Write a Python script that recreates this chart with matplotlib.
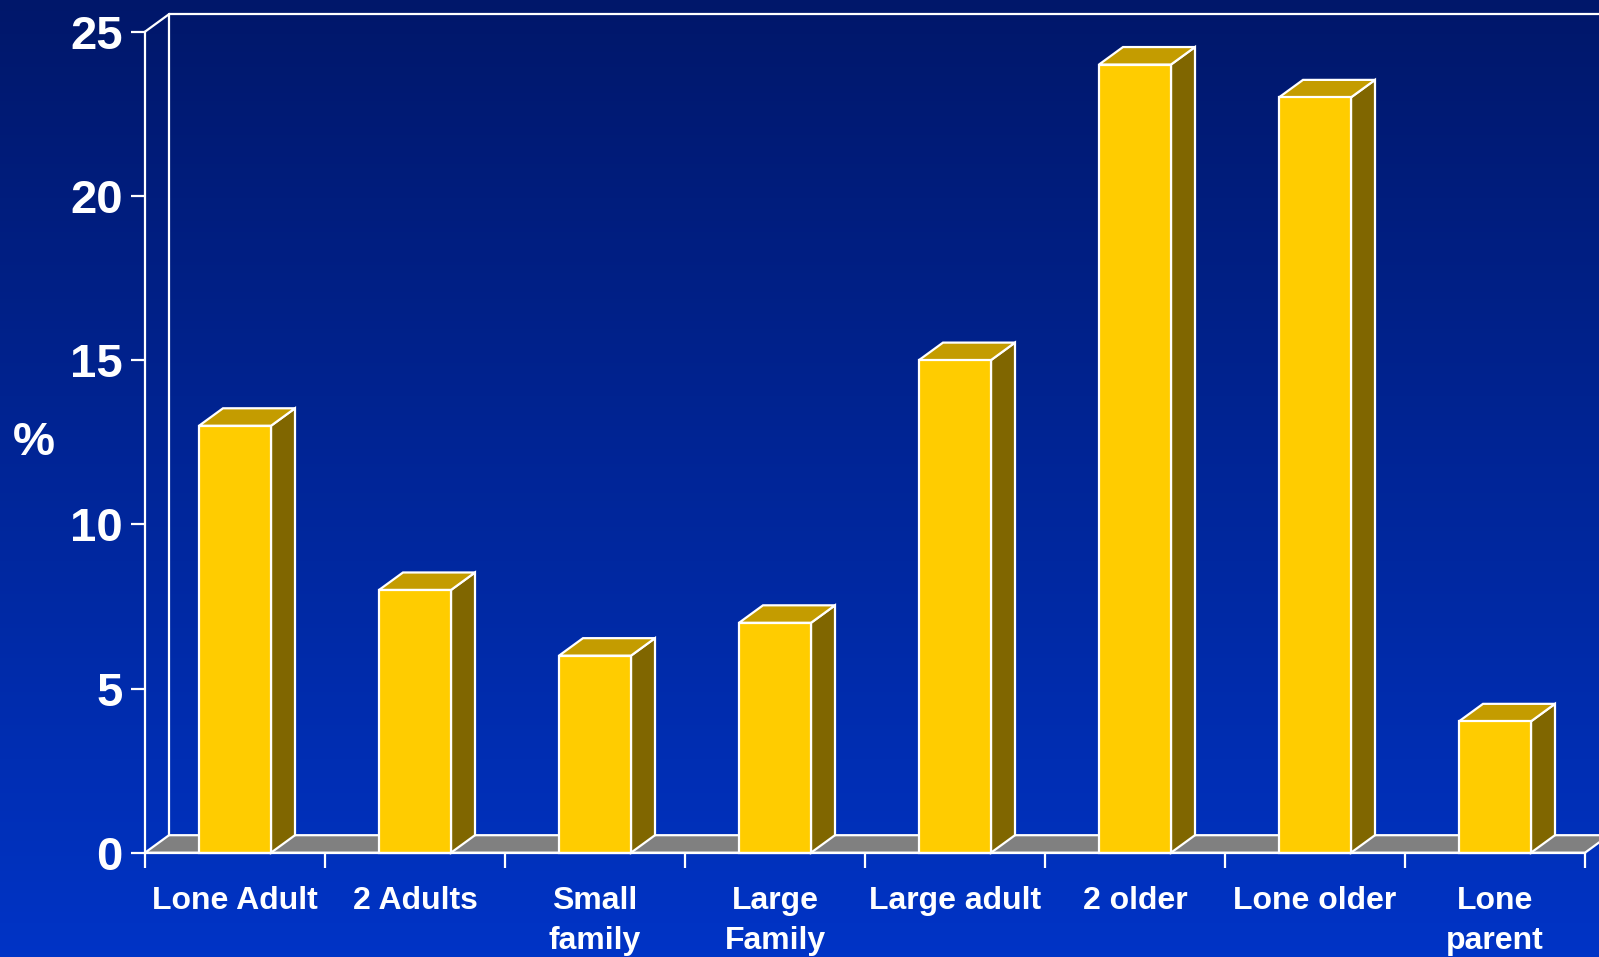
import matplotlib
matplotlib.use("Agg")
import matplotlib.pyplot as plt
import numpy as np
from matplotlib.patches import Polygon
from matplotlib.colors import LinearSegmentedColormap

categories = ["Lone Adult", "2 Adults", "Small\nfamily", "Large\nFamily",
              "Large adult", "2 older", "Lone older", "Lone\nparent"]
values = [13, 8, 6, 7, 15, 24, 23, 4]
y_ticks = [0, 5, 10, 15, 20, 25]

plt.rcParams["font.family"] = ["Liberation Sans", "DejaVu Sans"]
plt.rcParams["font.weight"] = "bold"

FRONT = "#ffcc00"
TOP = "#c49c00"
SIDE = "#806600"
FLOOR = "#808080"
EDGE = "white"
LW = 1.6

fig = plt.figure(figsize=(15.99, 9.57), dpi=100)

# background gradient
bg = fig.add_axes([0, 0, 1, 1], zorder=0)
grad = np.linspace(0, 1, 256).reshape(-1, 1)
cmap = LinearSegmentedColormap.from_list("bg", ["#00176a", "#0034c6"])
bg.imshow(grad, aspect="auto", cmap=cmap, extent=[0, 1, 0, 1], origin="upper")
bg.set_axis_off()

W, H = 1599, 957
ax = fig.add_axes([145 / W, (H - 852.7) / H, 1440 / W, 821 / H], zorder=1)
ax.patch.set_visible(False)
n = len(categories)
ymax = 25
ax.set_xlim(0, n)
ax.set_ylim(0, ymax)

# depth of the pseudo-3D view, in data units
dx = 24 / 180
dy = 17.5 / (821 / ymax)
bw = 0.4

# floor and back wall
ax.add_patch(Polygon([(0, 0), (n, 0), (n + dx, dy), (dx, dy)], closed=True,
                     facecolor=FLOOR, edgecolor=EDGE, lw=LW, clip_on=False, zorder=2))
ax.plot([dx, dx, n + 1], [dy, ymax + dy, ymax + dy], color=EDGE, lw=LW,
        clip_on=False, zorder=2)
ax.plot([0, dx], [ymax, ymax + dy], color=EDGE, lw=LW, clip_on=False, zorder=2)

for i, v in enumerate(values):
    x0 = i + 0.5 - bw / 2
    x1 = x0 + bw
    side = [(x1, 0), (x1 + dx, dy), (x1 + dx, v + dy), (x1, v)]
    top = [(x0, v), (x1, v), (x1 + dx, v + dy), (x0 + dx, v + dy)]
    front = [(x0, 0), (x1, 0), (x1, v), (x0, v)]
    for pts, fc in ((side, SIDE), (top, TOP), (front, FRONT)):
        ax.add_patch(Polygon(pts, closed=True, facecolor=fc, edgecolor=EDGE,
                             lw=LW, joinstyle="miter", clip_on=False, zorder=3))

for s in ("top", "right"):
    ax.spines[s].set_visible(False)
for s in ("left", "bottom"):
    ax.spines[s].set_color(EDGE)
    ax.spines[s].set_linewidth(LW)
    ax.spines[s].set_zorder(4)

ax.set_yticks(y_ticks)
ax.set_yticklabels([str(t) for t in y_ticks])
ax.tick_params(axis="y", colors=EDGE, length=10, width=LW, pad=6,
               labelsize=34, labelcolor="white")
ax.set_xticks(np.arange(n + 1))
ax.set_xticklabels([])
ax.set_xticks(np.arange(n) + 0.5, minor=True)
ax.set_xticklabels(categories, minor=True, fontsize=23, color="white",
                   fontweight="bold", linespacing=1.45, va="top")
ax.tick_params(axis="x", which="major", colors=EDGE, length=11, width=LW)
ax.tick_params(axis="x", which="minor", length=0, pad=24)
for lab in ax.get_yticklabels():
    lab.set_fontweight("bold")

fig.text(34 / W, 1 - 443 / H, "%", color="white", fontsize=34,
         fontweight="bold", ha="center", va="center")

fig.savefig("out.png", dpi=100)
